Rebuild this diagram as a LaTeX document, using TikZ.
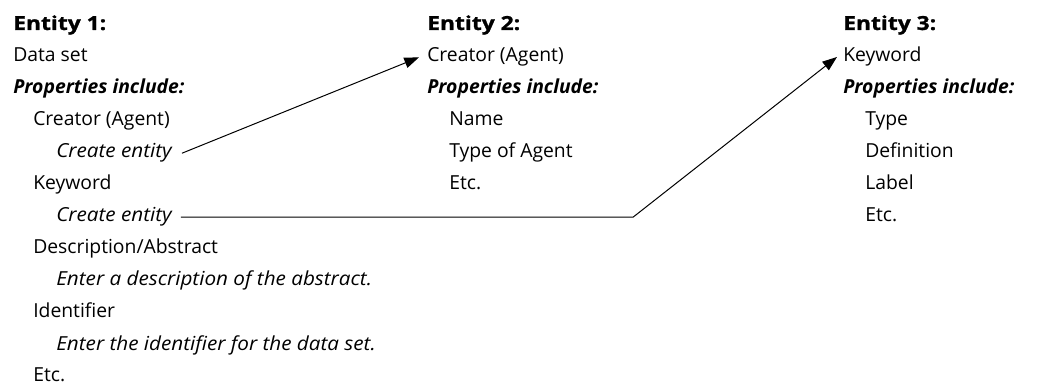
\documentclass[tikz,border=0pt]{standalone}
\usepackage{fontspec}
\setmainfont{Open Sans}[ItalicFeatures={FakeStretch=1.07}]
\newfontfamily\hdfont{Open Sans}[BoldFeatures={FakeStretch=1.18,FakeBold=1.2}]
\usetikzlibrary{arrows.meta,calc}
\begin{document}
\begin{tikzpicture}[x=0.75pt,y=-0.75pt,
  txt/.style={anchor=base west, inner sep=0pt, font=\fontsize{14.5}{16}\selectfont},
  hd/.style={anchor=base west, inner sep=0pt, font=\fontsize{14.5}{16}\selectfont\hdfont\bfseries},
  pr/.style={anchor=base west, inner sep=0pt, font=\fontsize{14.5}{16}\selectfont\bfseries\itshape},
  it/.style={anchor=base west, inner sep=0pt, font=\fontsize{14.5}{16}\selectfont\itshape},
  arr/.style={draw=black, line width=0.75pt, -{Triangle[length=11pt,width=8pt]}}]
\useasboundingbox (0,0) rectangle (1038,384);
% Entity 1
\node[hd]  (e1h)  at (13,30)  {Entity 1:};
\node[txt] (e1n)  at (13,62)  {Data set};
\node[pr]  (e1p)  at (13,94)  {Properties include:};
\node[txt] (e1a)  at (33,126) {Creator (Agent)};
\node[it]  (e1ac) at (56,158) {Create entity};
\node[txt] (e1b)  at (33,190) {Keyword};
\node[it]  (e1bc) at (56,222) {Create entity};
\node[txt] (e1c)  at (33,254) {Description/Abstract};
\node[it]  (e1cc) at (56,286) {Enter a description of the abstract.};
\node[txt] (e1d)  at (33,318) {Identifier};
\node[it]  (e1dc) at (56,350) {Enter the identifier for the data set.};
\node[txt] (e1e)  at (33,381) {Etc.};
% Entity 2
\node[hd]  (e2h)  at (427,30)  {Entity 2:};
\node[txt] (e2n)  at (427,62)  {Creator (Agent)};
\node[pr]  (e2p)  at (427,94)  {Properties include:};
\node[txt] (e2a)  at (449,126) {Name};
\node[txt] (e2b)  at (449,158) {Type of Agent};
\node[txt] (e2c)  at (449,190) {Etc.};
% Entity 3
\node[hd]  (e3h)  at (843,30)  {Entity 3:};
\node[txt] (e3n)  at (843,62)  {Keyword};
\node[pr]  (e3p)  at (843,94)  {Properties include:};
\node[txt] (e3a)  at (865,126) {Type};
\node[txt] (e3b)  at (865,158) {Definition};
\node[txt] (e3c)  at (865,190) {Label};
\node[txt] (e3d)  at (865,222) {Etc.};
% connectors
\coordinate (bendx) at (633,0);
\draw[arr] ($(e1ac.east)+(10,0)$) -- ($(e2n.west)+(-8,0)$);
\draw[arr] ($(e1bc.east)+(9,0)$) -- (e1bc.east -| bendx) -- ($(e3n.west)+(-6,0)$);
\end{tikzpicture}
\end{document}
